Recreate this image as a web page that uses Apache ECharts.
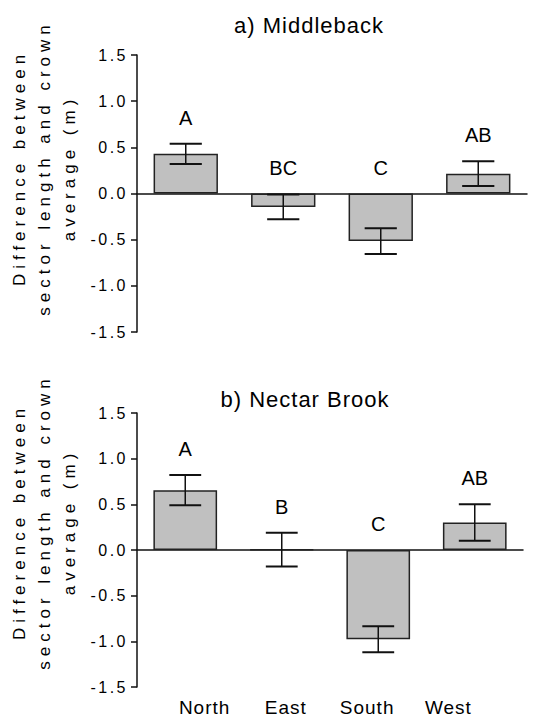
<!DOCTYPE html>
<html>
<head>
<meta charset="utf-8">
<style>
  html, body { margin: 0; padding: 0; background: #fff; }
  #chart { width: 558px; height: 720px; }
  /* the original export uses widely spaced lettering */
  #chart text { letter-spacing: 0; }
  #chart text[style*="16px"] { letter-spacing: 2.5px; }
  #chart text[style*="17px"] { letter-spacing: 5px; }
  #chart text[style*="22px"] { letter-spacing: 1px; }
  #chart text[style*="19px"] { letter-spacing: 1px; }
</style>
<script src="https://cdn.jsdelivr.net/npm/echarts@6/dist/echarts.min.js"></script>
</head>
<body>
<div id="chart"></div>
<script>
  const directions = ['North', 'East', 'South', 'West'];

  const middlebackMean = [0.43, -0.145, -0.515, 0.215];
  const middlebackErr = [0.11, 0.135, 0.14, 0.135];
  const middlebackLetters = ['A', 'BC', 'C', 'AB'];

  const nectarMean = [0.655, 0.005, -0.977, 0.30];
  const nectarErr = [0.165, 0.185, 0.143, 0.2];
  const nectarLetters = ['A', 'B', 'C', 'AB'];

  const FONT = '"Liberation Sans", Arial, sans-serif';

  const chart = echarts.init(document.getElementById('chart'), null, { renderer: 'svg' });

  const errorBars = letters => (params, api) => {
    const i = params.dataIndex;
    const m = api.value(1);
    const e = api.value(2);
    const x = api.coord([i, m])[0];
    const yHi = api.coord([i, m + e])[1];
    const yLo = api.coord([i, m - e])[1];
    const half = api.size([1, 0])[0] * 0.165;
    const yText = api.coord([i, Math.max(m + e, 0)])[1] - 26;
    const stroke = '#111';
    return {
      type: 'group',
      children: [
        { type: 'line', shape: { x1: x, y1: yHi, x2: x, y2: yLo }, style: { stroke, lineWidth: 1.5 } },
        { type: 'line', shape: { x1: x - half, y1: yHi, x2: x + half, y2: yHi }, style: { stroke, lineWidth: 2 } },
        { type: 'line', shape: { x1: x - half, y1: yLo, x2: x + half, y2: yLo }, style: { stroke, lineWidth: 2 } },
        {
          type: 'text', x, y: yText,
          style: { text: letters[i], align: 'center', verticalAlign: 'middle', fontSize: 20, fontFamily: FONT, fill: '#000' }
        }
      ]
    };
  };

  const xAxisFor = idx => ({
    type: 'category',
    gridIndex: idx,
    data: directions,
    axisLine: { onZero: true, lineStyle: { color: '#111', width: 1.5 } },
    axisTick: { show: false },
    axisLabel: { show: false }
  });

  const yAxisFor = idx => ({
    type: 'value',
    gridIndex: idx,
    min: -1.5,
    max: 1.5,
    interval: 0.5,
    axisLine: { show: true, onZero: false, lineStyle: { color: '#111', width: 1.5 } },
    axisTick: { show: true, length: 6, lineStyle: { color: '#111', width: 1.5 } },
    splitLine: { show: false },
    axisLabel: {
      color: '#000',
      fontSize: 16,
      fontFamily: FONT,
      margin: 9,
      formatter: v => v.toFixed(1)
    }
  });

  const ytitle = (cx, cy) => ({
    type: 'text',
    x: cx,
    y: cy,
    rotation: Math.PI / 2,
    style: {
      text: 'Difference between\nsector length and crown\naverage (m)',
      align: 'center',
      verticalAlign: 'middle',
      fontSize: 17,
      lineHeight: 25,
      fontFamily: FONT,
      fill: '#000'
    }
  });

  const option = {
    backgroundColor: '#fff',
    animation: false,
    grid: [
      { left: 137, top: 55, width: 390, height: 277 },
      { left: 137, top: 413, width: 386, height: 274 },
      { left: 164, top: 687, width: 325, height: 1 }
    ],
    xAxis: [
      xAxisFor(0),
      xAxisFor(1),
      {
        type: 'category',
        gridIndex: 2,
        data: directions,
        axisLine: { show: false },
        axisTick: { show: false },
        axisLabel: { color: '#000', fontSize: 19, fontFamily: FONT, margin: 10 }
      }
    ],
    yAxis: [
      yAxisFor(0),
      yAxisFor(1),
      { type: 'value', gridIndex: 2, show: false }
    ],
    graphic: [
      {
        type: 'text', x: 309, y: 25,
        style: { text: 'a) Middleback', align: 'center', verticalAlign: 'middle', fontSize: 22, fontFamily: FONT, fill: '#000' }
      },
      {
        type: 'text', x: 305, y: 399,
        style: { text: 'b) Nectar Brook', align: 'center', verticalAlign: 'middle', fontSize: 22, fontFamily: FONT, fill: '#000' }
      },
      ytitle(44, 168),
      ytitle(44, 522)
    ],
    series: [
      {
        type: 'bar',
        xAxisIndex: 0,
        yAxisIndex: 0,
        data: middlebackMean,
        barWidth: '66%',
        itemStyle: { color: '#c0c0c0', borderColor: '#222', borderWidth: 1.5 }
      },
      {
        type: 'custom',
        xAxisIndex: 0,
        yAxisIndex: 0,
        data: middlebackMean.map((m, i) => [i, m, middlebackErr[i]]),
        renderItem: errorBars(middlebackLetters),
        z: 3
      },
      {
        type: 'bar',
        xAxisIndex: 1,
        yAxisIndex: 1,
        data: nectarMean,
        barWidth: '66%',
        itemStyle: { color: '#c0c0c0', borderColor: '#222', borderWidth: 1.5 }
      },
      {
        type: 'custom',
        xAxisIndex: 1,
        yAxisIndex: 1,
        data: nectarMean.map((m, i) => [i, m, nectarErr[i]]),
        renderItem: errorBars(nectarLetters),
        z: 3
      }
    ]
  };

  chart.setOption(option);
</script>
</body>
</html>
